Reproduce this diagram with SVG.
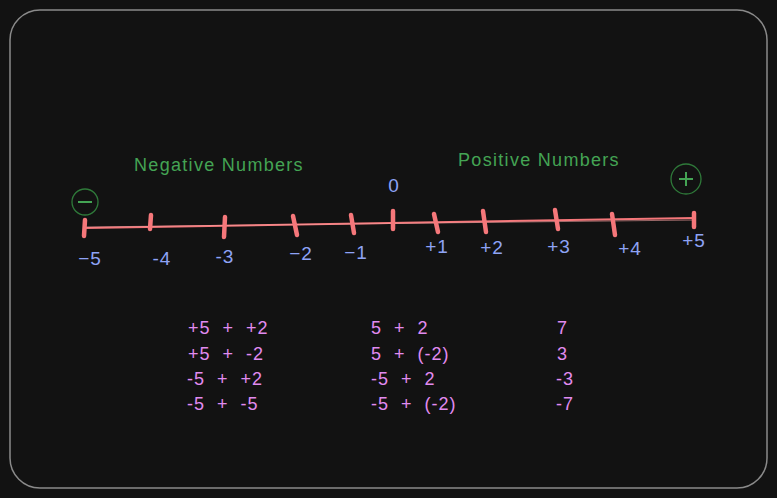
<svg xmlns="http://www.w3.org/2000/svg" width="777" height="498" viewBox="0 0 777 498">
<style>
.lbl{font-family:"Liberation Sans",Arial,sans-serif;font-size:19px;fill:#8ea3f5;text-anchor:middle;letter-spacing:1px}
.grn{font-family:"Liberation Sans",Arial,sans-serif;font-size:18px;fill:#44a454;text-anchor:middle;letter-spacing:1.3px}
.pk{font-family:"Liberation Sans",Arial,sans-serif;font-size:18px;fill:#e18bf0;letter-spacing:1px}
.tick{stroke:#f5777a;stroke-width:4.5;stroke-linecap:round;fill:none}
</style>
<rect x="0" y="0" width="777" height="498" fill="#121212"/>
<rect x="10" y="10" width="757" height="478" rx="30" fill="#121212" stroke="#8a8a8a" stroke-width="1.5"/>
<g id="numberline">
<path d="M85 228 L695 218" stroke="#f5777a" stroke-width="2" fill="none"/>
<path d="M85 227 L695 220" stroke="#f5a0a0" stroke-width="1" fill="none" opacity="0.6"/>
</g>
<g id="ticks">
<path class="tick" d="M85 220 L84 236"/>
<path class="tick" d="M151 215 L150 229"/>
<path class="tick" d="M225 217 L224 237"/>
<path class="tick" d="M293 216 L297 235"/>
<path class="tick" d="M351 215 L354 233"/>
<path class="tick" d="M393 211 L393 229"/>
<path class="tick" d="M434 214 L438 232"/>
<path class="tick" d="M483 211 L486 232"/>
<path class="tick" d="M555 210 L558 229"/>
<path class="tick" d="M612 214 L615 235"/>
<path class="tick" d="M694 213 L694 227"/>
</g>
<g id="labels">
<text class="lbl" x="90" y="265">−5</text>
<text class="lbl" x="162" y="265">-4</text>
<text class="lbl" x="225" y="263">-3</text>
<text class="lbl" x="301" y="260">−2</text>
<text class="lbl" x="356" y="259">−1</text>
<text class="lbl" x="394" y="192">0</text>
<text class="lbl" x="437" y="253">+1</text>
<text class="lbl" x="492" y="254">+2</text>
<text class="lbl" x="559" y="253">+3</text>
<text class="lbl" x="630" y="255">+4</text>
<text class="lbl" x="694" y="247">+5</text>
</g>
<g id="headers">
<text class="grn" x="219" y="171">Negative Numbers</text>
<text class="grn" x="539" y="166">Positive Numbers</text>
</g>
<g id="minus-sign">
<circle cx="85" cy="202" r="13" fill="none" stroke="#2f7a3a" stroke-width="1.3"/>
<path d="M78 202 L92 202" stroke="#44a454" stroke-width="2"/>
</g>
<g id="plus-sign">
<circle cx="686" cy="179" r="15" fill="none" stroke="#2f7a3a" stroke-width="1.3"/>
<path d="M679 179 L693 179 M686 172 L686 186" stroke="#44a454" stroke-width="2"/>
</g>
<g id="examples">
<text class="pk" x="188" y="334" xml:space="preserve">+5  +  +2</text>
<text class="pk" x="188" y="360" xml:space="preserve">+5  +  -2</text>
<text class="pk" x="187" y="385" xml:space="preserve">-5  +  +2</text>
<text class="pk" x="187" y="410" xml:space="preserve">-5  +  -5</text>
<text class="pk" x="371" y="334" xml:space="preserve">5  +  2</text>
<text class="pk" x="371" y="360" xml:space="preserve">5  +  (-2)</text>
<text class="pk" x="371" y="385" xml:space="preserve">-5  +  2</text>
<text class="pk" x="371" y="410" xml:space="preserve">-5  +  (-2)</text>
<text class="pk" x="557" y="334">7</text>
<text class="pk" x="557" y="360">3</text>
<text class="pk" x="556" y="385">-3</text>
<text class="pk" x="556" y="410">-7</text>
</g>
</svg>
